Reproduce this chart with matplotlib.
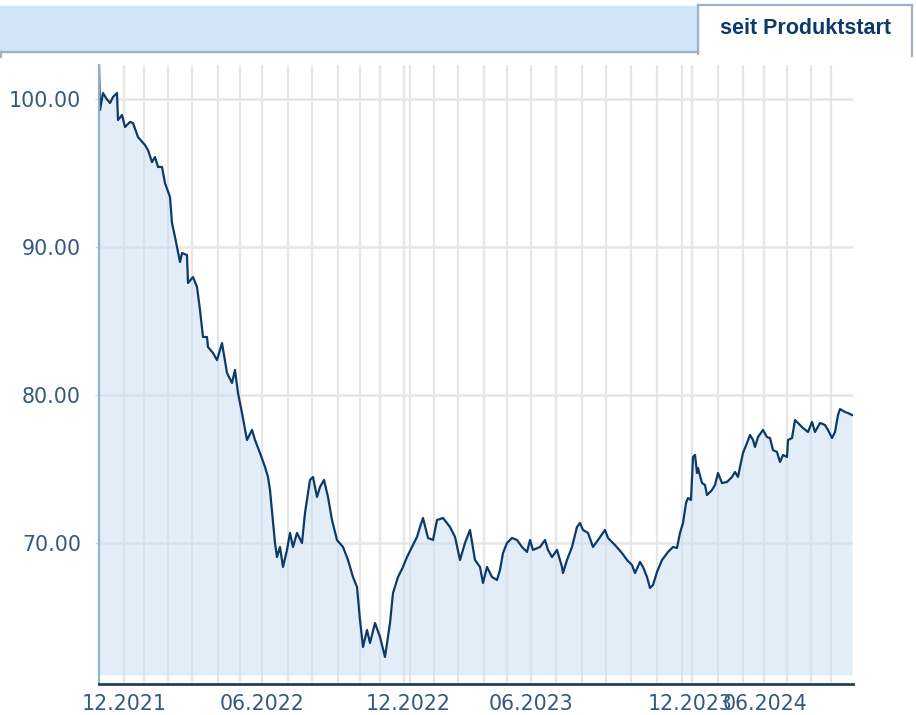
import matplotlib.pyplot as plt
from matplotlib.patches import Rectangle
from matplotlib.lines import Line2D
import numpy as np

# trading day index since product start, and price
days = [0, 1, 4, 7, 11, 14, 18, 19, 23, 26, 31, 34, 39, 46, 49, 53, 56, 59, 63, 66,
        71, 73, 76, 81, 83, 88, 89, 94, 98, 101, 104, 108, 109, 114, 118, 123, 128, 133, 136, 139,
        143, 148, 153, 156, 161, 166, 169, 171, 176, 178, 181, 184, 188, 191, 194, 198, 203, 206, 211, 214,
        218, 221, 225, 229, 233, 238, 244, 249, 254, 258, 261, 264, 268, 271, 276, 281, 286, 291, 294, 299,
        304, 308, 313, 318, 321, 324, 329, 334, 338, 344, 351, 356, 361, 366, 371, 376, 381, 384, 388, 393,
        398, 401, 404, 408, 413, 418, 423, 428, 431, 434, 441, 446, 449, 453, 458, 463, 464, 468, 473, 478,
        481, 484, 489, 494, 499, 506, 509, 516, 523, 528, 533, 536, 541, 544, 548, 551, 554, 558, 563, 569,
        574, 578, 581, 584, 587, 589, 592, 594, 596, 598, 599, 603, 606, 608, 613, 616, 619, 623, 628, 633,
        636, 639, 641, 644, 648, 651, 654, 656, 659, 664, 668, 671, 674, 678, 681, 684, 688, 689, 693, 696,
        699, 704, 709, 713, 716, 721, 726, 729, 733, 736, 739, 741, 746, 749, 753]
price = [102.25, 99.26, 100.41, 100.07, 99.73, 100.14, 100.41, 98.58, 98.92, 98.11, 98.45, 98.38, 97.43, 96.89, 96.55, 95.74, 96.08, 95.41, 95.41, 94.32,
         93.38, 91.62, 90.68, 88.99, 89.59, 89.46, 87.57, 87.97, 87.30, 85.74, 83.92, 83.92, 83.24, 82.84, 82.36, 83.51, 81.49, 80.81, 81.69, 80.14,
         78.78, 76.96, 77.64, 76.96, 76.08, 75.14, 74.46, 73.58, 70.00, 69.05, 69.73, 68.38, 69.53, 70.68, 69.73, 70.68, 70.00, 72.03, 74.26, 74.46,
         73.11, 73.78, 74.26, 73.11, 71.55, 70.20, 69.73, 68.85, 67.70, 67.03, 64.80, 62.97, 64.12, 63.24, 64.59, 63.65, 62.30, 64.59, 66.62, 67.70,
         68.38, 69.05, 69.73, 70.41, 71.08, 71.69, 70.34, 70.20, 71.55, 71.69, 71.08, 70.41, 68.85, 70.00, 70.88, 68.85, 68.38, 67.30, 68.38, 67.70,
         67.50, 68.18, 69.32, 70.00, 70.34, 70.20, 69.73, 69.39, 70.20, 69.53, 69.73, 70.20, 69.53, 69.05, 69.53, 68.38, 67.97, 68.85, 69.73, 71.08,
         71.35, 70.88, 70.68, 69.73, 70.20, 70.88, 70.34, 69.86, 69.32, 68.85, 68.51, 67.97, 68.72, 68.38, 67.70, 66.96, 67.16, 68.04, 68.85, 69.39,
         69.73, 69.66, 70.68, 71.35, 72.70, 73.04, 72.91, 75.81, 75.95, 74.73, 75.07, 74.05, 73.92, 73.24, 73.58, 73.92, 74.73, 74.05, 74.12, 74.46,
         74.80, 74.46, 75.14, 76.08, 76.76, 77.30, 76.96, 76.49, 77.16, 77.64, 77.16, 77.09, 76.28, 76.15, 75.47, 75.95, 75.81, 76.96, 77.09, 78.31,
         78.11, 77.77, 77.50, 78.18, 77.50, 78.11, 77.97, 77.64, 77.09, 77.50, 78.65, 79.05, 78.85, 78.78, 78.65]

# month grid (trading day index) and labelled ticks
month_grid = [25, 45, 69, 93, 119, 141, 163, 189, 213, 239, 261, 281, 305, 311, 335, 359,
              385, 408, 432, 457, 483, 507, 532, 558, 583, 593, 619, 644, 665, 688, 712, 732]
tick_pos = [25, 163, 309, 432, 591, 666]
tick_labels = ['12.2021', '06.2022', '12.2022', '06.2023', '12.2023', '06.2024']
y_ticks = [70, 80, 90, 100]

navy = '#0c3a69'
label_col = '#34587f'
grid_col = '#e6e6e6'

fig = plt.figure(figsize=(9.16, 7.15), dpi=100)

# header bar and tab
W, H = 916, 715
def fx(px): return px / W
def fy(py): return 1 - py / H
fig.patches.append(Rectangle((fx(0), fy(52)), fx(698), fy(6) - fy(52),
                             transform=fig.transFigure, color='#d1e6f8', zorder=0))
for xs, ys in [([0, 698], [52, 52]), ([698, 698], [5, 54]), ([698, 912], [5, 5]),
               ([912, 912], [5, 56]), ([1, 1], [52, 57])]:
    fig.lines.append(Line2D([fx(v) for v in xs], [fy(v) for v in ys],
                            transform=fig.transFigure, color='#9db2c6', lw=1.6))
fig.text(fx(806), fy(28), 'seit Produktstart', ha='center', va='center',
         fontsize=15.5, fontweight='bold', color='#0c3b69', family='Liberation Sans')

ax = fig.add_axes([fx(99), fy(684), fx(853) - fx(99), fy(65) - fy(684)])
ax.set_xlim(0, 754)
ax.set_ylim(60.47, 102.3)

for g in month_grid:
    ax.axvline(g, color=grid_col, lw=1.6, zorder=0)
for yv in y_ticks:
    ax.axhline(yv, xmin=0, xmax=1, color=grid_col, lw=1.8, zorder=0)

ax.fill_between(days, price, 61.08, color='#c7ddf3', alpha=0.5, lw=0, zorder=1)
ax.plot(days, price, color=navy, lw=1.6, zorder=2)

ax.set_yticks(y_ticks)
ax.set_yticklabels(['%.2f' % v for v in y_ticks])
ax.set_xticks(tick_pos)
ax.set_xticklabels(tick_labels)
ax.tick_params(axis='y', length=3, color='#c9d9e8', pad=10, labelsize=14.8, labelcolor=label_col)
ax.tick_params(axis='x', length=0, pad=7, labelsize=14.8, labelcolor=label_col)

ax.spines['top'].set_visible(False)
ax.spines['right'].set_visible(False)
ax.spines['left'].set_color('#8fb0cf')
ax.spines['left'].set_linewidth(1.5)
ax.spines['bottom'].set_color('#1e3f63')
ax.spines['bottom'].set_linewidth(2)

plt.savefig('out.png', dpi=100)
